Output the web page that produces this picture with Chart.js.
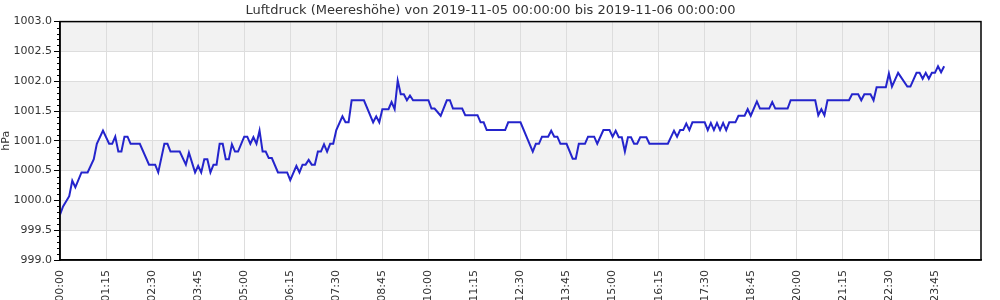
<!DOCTYPE html>
<html>
<head>
<meta charset="utf-8">
<script src="https://cdn.jsdelivr.net/npm/chart.js@4/dist/chart.umd.min.js"></script>
<style>
  html, body { margin: 0; padding: 0; background: #fff; }
  #wrap { width: 1000px; height: 300px; overflow: hidden; }
</style>
</head>
<body>
<div id="wrap"><canvas id="chart" width="1000" height="300"></canvas></div>
<script>
const titleText = "Luftdruck (Meereshöhe) von 2019-11-05 00:00:00 bis 2019-11-06 00:00:00";
const yLabel = "hPa";

// minutes since 00:00 and pressure readings (hPa)
const minutes = [
  0, 5, 15, 20, 25, 35, 45, 55, 60, 70, 80, 85, 90, 95, 100, 105, 110, 115, 130, 145,
  155, 160, 170, 175, 180, 195, 205, 210, 220, 225, 230, 235, 240, 245, 250, 255, 260, 265, 270, 275,
  280, 285, 290, 300, 305, 310, 315, 320, 325, 330, 335, 340, 345, 355, 370, 375, 385, 390, 395, 400,
  405, 410, 415, 420, 425, 430, 435, 440, 445, 450, 460, 465, 470, 475, 495, 510, 515, 520, 525, 535,
  540, 545, 550, 555, 560, 565, 570, 575, 600, 605, 610, 620, 630, 635, 640, 655, 660, 680, 685, 690,
  695, 725, 730, 750, 770, 775, 780, 785, 795, 800, 805, 810, 815, 825, 835, 840, 845, 855, 860, 870,
  875, 885, 895, 900, 905, 910, 915, 920, 925, 930, 935, 940, 945, 955, 960, 990, 1000, 1005, 1010, 1015,
  1020, 1025, 1030, 1050, 1055, 1060, 1065, 1070, 1075, 1080, 1085, 1090, 1100, 1105, 1115, 1120, 1125, 1135, 1140, 1155,
  1160, 1165, 1185, 1190, 1230, 1235, 1240, 1245, 1250, 1285, 1290, 1300, 1305, 1310, 1320, 1325, 1330, 1345, 1350, 1355,
  1365, 1380, 1385, 1395, 1400, 1405, 1410, 1415, 1420, 1425, 1430, 1435, 1440
];
const pressure = [
  999.76, 999.90, 1000.07, 1000.33, 1000.22, 1000.47, 1000.47, 1000.69, 1000.95, 1001.17, 1000.95, 1000.95, 1001.07, 1000.82, 1000.82, 1001.07, 1001.07, 1000.95, 1000.95, 1000.60,
  1000.60, 1000.47, 1000.95, 1000.95, 1000.82, 1000.82, 1000.60, 1000.80, 1000.47, 1000.58, 1000.47, 1000.69, 1000.69, 1000.47, 1000.60, 1000.60, 1000.95, 1000.95, 1000.69, 1000.69,
  1000.94, 1000.82, 1000.82, 1001.07, 1001.07, 1000.95, 1001.06, 1000.95, 1001.17, 1000.82, 1000.82, 1000.71, 1000.71, 1000.47, 1000.47, 1000.34, 1000.58, 1000.47, 1000.60, 1000.60,
  1000.68, 1000.60, 1000.60, 1000.82, 1000.82, 1000.94, 1000.82, 1000.95, 1000.95, 1001.18, 1001.41, 1001.31, 1001.31, 1001.68, 1001.68, 1001.31, 1001.41, 1001.31, 1001.53, 1001.53,
  1001.65, 1001.53, 1002.01, 1001.78, 1001.78, 1001.68, 1001.76, 1001.68, 1001.68, 1001.54, 1001.54, 1001.42, 1001.68, 1001.68, 1001.54, 1001.54, 1001.43, 1001.43, 1001.31, 1001.31,
  1001.18, 1001.18, 1001.31, 1001.31, 1000.82, 1000.95, 1000.95, 1001.07, 1001.07, 1001.17, 1001.07, 1001.07, 1000.95, 1000.95, 1000.70, 1000.70, 1000.95, 1000.95, 1001.07, 1001.07,
  1000.95, 1001.18, 1001.18, 1001.07, 1001.17, 1001.06, 1001.06, 1000.82, 1001.06, 1001.06, 1000.95, 1000.95, 1001.06, 1001.06, 1000.95, 1000.95, 1001.17, 1001.07, 1001.18, 1001.18,
  1001.29, 1001.18, 1001.31, 1001.31, 1001.18, 1001.30, 1001.18, 1001.30, 1001.18, 1001.30, 1001.18, 1001.31, 1001.31, 1001.42, 1001.42, 1001.53, 1001.42, 1001.66, 1001.54, 1001.54,
  1001.65, 1001.54, 1001.54, 1001.68, 1001.68, 1001.43, 1001.53, 1001.43, 1001.68, 1001.68, 1001.78, 1001.78, 1001.68, 1001.78, 1001.78, 1001.68, 1001.90, 1001.90, 1002.13, 1001.91,
  1002.14, 1001.91, 1001.91, 1002.14, 1002.14, 1002.04, 1002.14, 1002.04, 1002.14, 1002.14, 1002.25, 1002.15, 1002.25
];

const yMin = 999.0;
const yMax = 1003.0;
const xMax = 1500;

function formatTime(value) {
  const h = Math.floor(value / 60) % 24;
  const m = value % 60;
  return String(h).padStart(2, "0") + ":" + String(m).padStart(2, "0");
}

const frame = {
  id: "frame",
  beforeDraw(chart) {
    const { ctx, chartArea, scales } = chart;
    ctx.save();
    ctx.fillStyle = "#f2f2f2";
    for (let v = yMax; v > yMin; v -= 1.0) {
      const top = scales.y.getPixelForValue(v);
      const bottom = scales.y.getPixelForValue(v - 0.5);
      ctx.fillRect(chartArea.left, top, chartArea.right - chartArea.left, bottom - top);
    }
    ctx.restore();
  },
  afterDraw(chart) {
    const { ctx, chartArea, scales } = chart;
    ctx.save();
    ctx.strokeStyle = "#000";
    ctx.lineWidth = 1;
    ctx.beginPath();
    for (let i = 0; i <= 40; i++) {
      if (i % 5 === 0) continue;
      const y = Math.round(scales.y.getPixelForValue(yMin + i * 0.1)) + 0.5;
      ctx.moveTo(chartArea.left - 3, y);
      ctx.lineTo(chartArea.left, y);
    }
    ctx.stroke();
    ctx.lineWidth = 1.5;
    ctx.strokeRect(chartArea.left, chartArea.top, chartArea.right - chartArea.left, chartArea.bottom - chartArea.top);
    ctx.restore();
  }
};

new Chart(document.getElementById("chart"), {
  type: "line",
  data: {
    datasets: [{
      data: minutes.map((m, i) => ({ x: m, y: pressure[i] })),
      borderColor: "#2424cc",
      borderWidth: 2,
      pointRadius: 0,
      tension: 0,
      fill: false
    }]
  },
  options: {
    responsive: false,
    animation: false,
    layout: { padding: { left: 0, right: 19, top: 0, bottom: 0 } },
    plugins: {
      legend: { display: false },
      tooltip: { enabled: false },
      title: {
        display: true,
        text: titleText,
        color: "#333",
        font: { family: "DejaVu Sans", size: 13, weight: "normal" },
        padding: { top: 3, bottom: 3 }
      }
    },
    scales: {
      x: {
        type: "linear",
        min: 0,
        max: xMax,
        afterFit(scale) { scale.height = 40; },
        ticks: {
          stepSize: 75,
          autoSkip: false,
          minRotation: 90,
          maxRotation: 90,
          padding: 10,
          color: "#333",
          font: { family: "DejaVu Sans", size: 11 },
          callback: (v) => (v >= xMax ? null : formatTime(v))
        },
        grid: { color: "#dddddd", drawTicks: false },
        border: { color: "#000", width: 1.5 }
      },
      y: {
        min: yMin,
        max: yMax,
        afterFit(scale) { scale.width = 60; },
        ticks: {
          stepSize: 0.5,
          padding: 2,
          color: "#333",
          font: { family: "DejaVu Sans", size: 11 },
          callback: (v) => v.toFixed(1)
        },
        grid: { color: "#dddddd", tickLength: 6, tickColor: "#000" },
        border: { color: "#000", width: 1.5 },
        title: {
          display: true,
          text: yLabel,
          color: "#333",
          font: { family: "DejaVu Sans", size: 11 },
          padding: 0
        }
      }
    }
  },
  plugins: [frame]
});
</script>
</body>
</html>
